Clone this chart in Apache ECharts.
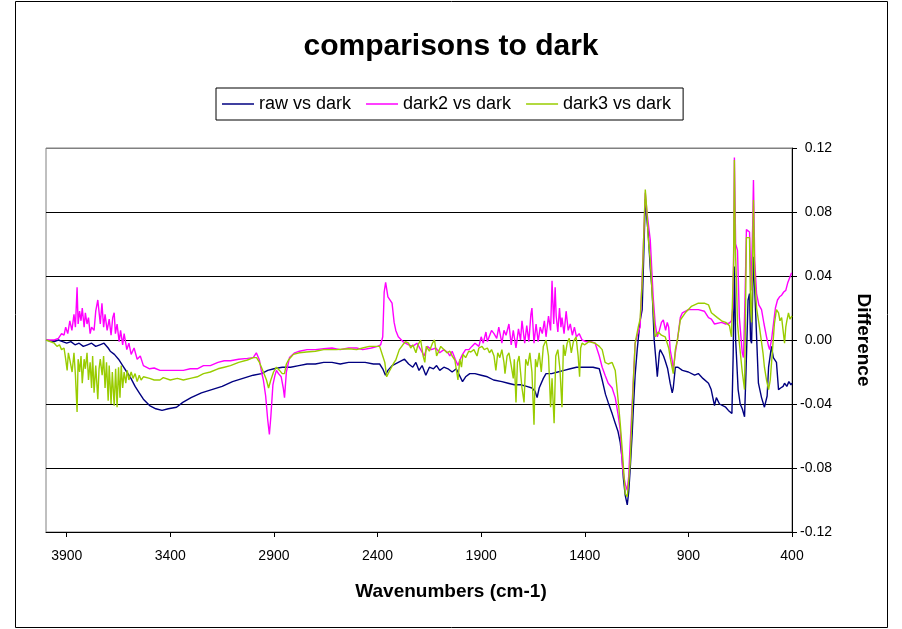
<!DOCTYPE html>
<html>
<head>
<meta charset="utf-8">
<title>comparisons to dark</title>
<script src="https://cdn.jsdelivr.net/npm/echarts@6/dist/echarts.min.js"></script>
<style>
  html, body { margin: 0; padding: 0; background: #fff; }
  #chart { width: 902px; height: 629px; }
</style>
</head>
<body>
<div id="chart"></div>
<script>
// x tick labels (wavenumbers, axis runs high -> low)
const xTicks = [3900, 3400, 2900, 2400, 1900, 1400, 900, 400];
const seriesNames = ['raw vs dark', 'dark2 vs dark', 'dark3 vs dark'];

// [wavenumber, difference]
const rawVsDark = [
  [4000, 0], [3960, -0.001], [3940, 0.0], [3920, -0.001], [3900, -0.002], [3880, -0.001], [3860, -0.003],
  [3840, -0.002], [3820, -0.004], [3800, -0.003], [3780, -0.002], [3760, -0.004], [3740, -0.003], [3720, -0.002],
  [3700, -0.005], [3690, -0.007], [3670, -0.009], [3650, -0.012], [3630, -0.016], [3610, -0.020], [3590, -0.024],
  [3570, -0.029], [3550, -0.033], [3530, -0.037], [3500, -0.041], [3470, -0.043], [3440, -0.044], [3410, -0.043],
  [3370, -0.042], [3340, -0.039], [3300, -0.036], [3250, -0.033], [3200, -0.031], [3150, -0.029], [3100, -0.026],
  [3050, -0.024], [3000, -0.022], [2960, -0.021], [2930, -0.019], [2900, -0.018], [2860, -0.017], [2820, -0.017],
  [2780, -0.016], [2740, -0.015], [2700, -0.015], [2660, -0.014], [2620, -0.014], [2580, -0.015], [2540, -0.014],
  [2500, -0.014], [2460, -0.014], [2420, -0.015], [2390, -0.015], [2375, -0.018], [2362, -0.022], [2350, -0.019],
  [2330, -0.016], [2300, -0.014], [2270, -0.012], [2250, -0.015], [2230, -0.017], [2215, -0.014], [2200, -0.019],
  [2185, -0.016], [2167, -0.022], [2150, -0.017], [2130, -0.018], [2115, -0.016], [2100, -0.019], [2080, -0.017],
  [2060, -0.018], [2040, -0.020], [2020, -0.018], [2005, -0.022], [1990, -0.026], [1975, -0.023], [1955, -0.021],
  [1930, -0.021], [1900, -0.022], [1870, -0.023], [1840, -0.025], [1800, -0.026], [1770, -0.027], [1740, -0.028],
  [1710, -0.028], [1680, -0.029], [1655, -0.030], [1640, -0.032], [1630, -0.036], [1620, -0.030], [1600, -0.024],
  [1587, -0.021], [1560, -0.021], [1530, -0.020], [1500, -0.019], [1470, -0.018], [1440, -0.017], [1400, -0.017],
  [1360, -0.017], [1330, -0.018], [1316, -0.025], [1300, -0.034], [1287, -0.039], [1268, -0.046], [1253, -0.052],
  [1240, -0.057], [1229, -0.064], [1219, -0.075], [1214, -0.086], [1205, -0.097], [1195, -0.103], [1188, -0.095],
  [1181, -0.081], [1171, -0.058], [1166, -0.044], [1157, -0.022], [1147, -0.006], [1133, 0.012], [1123, 0.019],
  [1115, 0.055], [1108, 0.088], [1100, 0.075], [1094, 0.067], [1084, 0.045], [1075, 0.031], [1065, 0.0],
  [1055, -0.015], [1050, -0.023], [1040, -0.008], [1036, -0.006], [1020, -0.010], [1012, -0.013], [1000, -0.018],
  [988, -0.027], [978, -0.033], [973, -0.030], [963, -0.017], [950, -0.017], [929, -0.019], [900, -0.020],
  [870, -0.022], [852, -0.021], [830, -0.024], [803, -0.027], [790, -0.031], [774, -0.041], [765, -0.036],
  [750, -0.040], [720, -0.042], [707, -0.044], [690, -0.046], [684, -0.010], [678, 0.046], [672, 0.0],
  [668, -0.010], [660, -0.031], [650, -0.040], [640, -0.043], [629, -0.048], [622, -0.020], [612, 0.025],
  [605, 0.029], [600, 0.0], [595, -0.002], [586, 0.052], [576, 0.019], [562, -0.027], [547, -0.036],
  [533, -0.042], [520, -0.035], [513, -0.017], [499, -0.004], [490, -0.011], [475, -0.014], [465, -0.031],
  [455, -0.030], [443, -0.029], [436, -0.027], [425, -0.029], [415, -0.026], [405, -0.028], [400, -0.027]
];

const dark2VsDark = [
  [4000, 0], [3960, 0.0], [3940, 0.001], [3925, 0.004], [3913, 0.003], [3905, 0.008], [3895, 0.004],
  [3885, 0.012], [3875, 0.006], [3865, 0.016], [3858, 0.008], [3850, 0.033], [3845, 0.010], [3838, 0.018],
  [3831, 0.012], [3825, 0.020], [3816, 0.008], [3810, 0.017], [3802, 0.010], [3795, 0.014], [3787, 0.004],
  [3780, 0.008], [3768, 0.006], [3760, 0.018], [3750, 0.025], [3744, 0.025], [3738, 0.010], [3730, 0.023],
  [3722, 0.008], [3715, 0.016], [3705, 0.006], [3695, 0.013], [3686, 0.003], [3678, 0.014], [3671, 0.017],
  [3665, 0.004], [3657, 0.010], [3647, -0.001], [3640, 0.006], [3630, -0.003], [3623, 0.004], [3610, -0.006],
  [3600, -0.002], [3589, -0.009], [3575, -0.005], [3560, -0.012], [3545, -0.010], [3530, -0.016], [3500, -0.018],
  [3478, -0.0175], [3450, -0.019], [3415, -0.019], [3380, -0.019], [3337, -0.019], [3304, -0.018], [3270, -0.018],
  [3240, -0.016], [3207, -0.016], [3170, -0.014], [3140, -0.013], [3110, -0.013], [3070, -0.012], [3028, -0.0115],
  [3000, -0.011], [2985, -0.008], [2970, -0.0125], [2960, -0.020], [2951, -0.025], [2940, -0.035], [2930, -0.050],
  [2922, -0.059], [2915, -0.048], [2905, -0.028], [2895, -0.022], [2888, -0.019], [2878, -0.021], [2865, -0.023],
  [2855, -0.030], [2849, -0.036], [2840, -0.020], [2825, -0.011], [2800, -0.008], [2777, -0.007], [2740, -0.006],
  [2700, -0.006], [2660, -0.0055], [2620, -0.005], [2580, -0.006], [2540, -0.005], [2501, -0.005], [2472, -0.006],
  [2430, -0.005], [2400, -0.004], [2385, -0.003], [2375, 0.002], [2368, 0.030], [2361, 0.036], [2350, 0.027],
  [2341, 0.026], [2330, 0.023], [2320, 0.011], [2312, 0.006], [2300, 0.002], [2278, -0.001], [2250, -0.003],
  [2230, -0.004], [2210, -0.002], [2192, -0.006], [2175, -0.010], [2160, -0.004], [2140, -0.006], [2119, -0.005],
  [2100, -0.008], [2080, -0.006], [2060, -0.008], [2051, -0.010], [2040, -0.007], [2025, -0.012], [2012, -0.016],
  [2003, -0.0125], [1990, -0.009], [1975, -0.006], [1959, -0.006], [1945, -0.004], [1930, -0.002], [1911, -0.004],
  [1900, 0.002], [1890, -0.002], [1877, 0.005], [1870, -0.001], [1862, 0.0], [1850, 0.006], [1838, 0.004],
  [1825, 0.001], [1815, 0.008], [1800, -0.002], [1790, 0.006], [1780, 0.003], [1766, 0.010], [1755, -0.003],
  [1745, 0.006], [1732, -0.005], [1720, 0.007], [1710, 0.0], [1703, 0.012], [1690, -0.002], [1680, 0.009],
  [1670, -0.001], [1660, 0.016], [1655, 0.020], [1645, -0.002], [1635, 0.010], [1625, -0.001], [1615, 0.008],
  [1605, 0.004], [1595, 0.012], [1587, 0.002], [1575, 0.015], [1565, 0.006], [1558, 0.037], [1550, 0.010],
  [1543, 0.033], [1538, 0.015], [1530, 0.005], [1522, 0.020], [1515, 0.008], [1510, 0.014], [1500, 0.004],
  [1490, 0.018], [1480, 0.006], [1470, 0.010], [1460, 0.003], [1450, 0.008], [1440, 0.002], [1427, 0.004],
  [1413, 0.0], [1395, -0.001], [1370, -0.001], [1350, -0.002], [1330, -0.010], [1316, -0.017], [1302, -0.022],
  [1287, -0.027], [1268, -0.030], [1253, -0.036], [1240, -0.046], [1229, -0.056], [1219, -0.078], [1214, -0.083],
  [1205, -0.090], [1195, -0.094], [1188, -0.085], [1181, -0.065], [1171, -0.039], [1157, -0.002], [1142, 0.005],
  [1133, 0.008], [1118, 0.056], [1108, 0.092], [1100, 0.080], [1084, 0.0625], [1070, 0.027], [1060, 0.010],
  [1050, 0.002], [1040, 0.006], [1030, 0.011], [1021, 0.0125], [1010, 0.006], [1002, 0.011], [995, 0.008],
  [988, -0.006], [978, -0.013], [973, -0.019], [963, -0.008], [953, 0.0], [939, 0.014], [929, 0.017],
  [900, 0.019], [871, 0.019], [852, 0.019], [823, 0.018], [803, 0.014], [789, 0.013], [774, 0.010],
  [740, 0.011], [720, 0.010], [702, 0.0106], [692, 0.012], [686, 0.020], [682, 0.050], [678, 0.114],
  [672, 0.060], [663, 0.056], [654, 0.014], [640, -0.008], [634, -0.011], [626, 0.030], [620, 0.069],
  [605, 0.0675], [598, 0.031], [590, 0.070], [586, 0.100], [580, 0.050], [571, 0.029], [560, 0.022],
  [547, 0.019], [535, 0.010], [523, 0.002], [513, -0.004], [508, -0.006], [499, 0.0], [489, 0.0106],
  [480, 0.020], [470, 0.025], [460, 0.027], [450, 0.028], [440, 0.030], [430, 0.031], [420, 0.036],
  [415, 0.035], [408, 0.040], [402, 0.042]
];

const dark3VsDark = [
  [4000, 0], [3960, -0.002], [3947, -0.004], [3935, -0.003], [3925, -0.006], [3913, -0.005], [3905, -0.012],
  [3898, -0.019], [3892, -0.008], [3884, -0.013], [3874, -0.020], [3865, -0.008], [3858, -0.022], [3850, -0.045],
  [3845, -0.012], [3838, -0.020], [3831, -0.010], [3825, -0.027], [3816, -0.012], [3810, -0.018], [3802, -0.008],
  [3795, -0.025], [3787, -0.014], [3780, -0.030], [3775, -0.010], [3768, -0.033], [3760, -0.016], [3750, -0.037],
  [3744, -0.018], [3738, -0.012], [3729, -0.022], [3722, -0.010], [3715, -0.030], [3708, -0.014], [3700, -0.038],
  [3695, -0.016], [3686, -0.040], [3680, -0.020], [3671, -0.041], [3664, -0.018], [3657, -0.042], [3650, -0.017],
  [3643, -0.036], [3637, -0.016], [3630, -0.030], [3623, -0.020], [3615, -0.027], [3608, -0.019], [3600, -0.025],
  [3589, -0.020], [3580, -0.024], [3570, -0.021], [3560, -0.026], [3550, -0.022], [3541, -0.025], [3530, -0.023],
  [3500, -0.024], [3478, -0.025], [3450, -0.025], [3434, -0.0235], [3400, -0.025], [3366, -0.024], [3337, -0.025],
  [3304, -0.024], [3270, -0.023], [3240, -0.021], [3207, -0.020], [3170, -0.018], [3140, -0.017], [3110, -0.016],
  [3070, -0.014], [3028, -0.0125], [3000, -0.011], [2984, -0.011], [2970, -0.014], [2951, -0.020], [2936, -0.025],
  [2926, -0.030], [2915, -0.025], [2902, -0.020], [2888, -0.017], [2873, -0.019], [2860, -0.021], [2849, -0.021],
  [2840, -0.015], [2830, -0.0125], [2806, -0.009], [2777, -0.008], [2743, -0.0075], [2700, -0.007], [2660, -0.006],
  [2600, -0.006], [2540, -0.0055], [2501, -0.006], [2472, -0.005], [2440, -0.004], [2409, -0.004], [2390, -0.004],
  [2385, -0.005], [2375, -0.010], [2365, -0.014], [2356, -0.023], [2345, -0.020], [2336, -0.019], [2320, -0.014],
  [2312, -0.0125], [2295, -0.006], [2278, -0.003], [2265, -0.001], [2250, -0.002], [2240, -0.005], [2230, -0.003],
  [2215, -0.008], [2205, -0.003], [2192, 0.0], [2180, -0.010], [2172, -0.014], [2165, -0.004], [2150, -0.007],
  [2135, -0.002], [2125, 0.0], [2115, -0.010], [2109, -0.011], [2095, -0.004], [2080, -0.006], [2065, -0.008],
  [2051, -0.007], [2040, -0.010], [2027, -0.0125], [2012, -0.025], [2003, -0.012], [1995, -0.017], [1988, -0.009],
  [1975, -0.011], [1960, -0.007], [1950, -0.0075], [1935, -0.006], [1920, -0.010], [1911, -0.005], [1896, -0.004],
  [1885, -0.006], [1870, -0.005], [1860, -0.008], [1850, -0.006], [1838, -0.010], [1829, -0.019], [1820, -0.008],
  [1810, -0.011], [1800, -0.006], [1790, -0.014], [1785, -0.021], [1775, -0.010], [1766, -0.008], [1755, -0.016],
  [1745, -0.024], [1740, -0.012], [1732, -0.039], [1725, -0.014], [1717, -0.010], [1710, -0.020], [1703, -0.030],
  [1693, -0.039], [1685, -0.012], [1675, -0.016], [1665, -0.008], [1655, -0.020], [1645, -0.053], [1638, -0.012],
  [1630, -0.017], [1620, -0.008], [1610, -0.020], [1600, -0.004], [1587, 0.0], [1575, -0.010], [1565, -0.042],
  [1558, -0.024], [1548, -0.052], [1540, -0.010], [1530, -0.006], [1520, -0.018], [1510, -0.042], [1503, -0.003],
  [1495, -0.010], [1485, -0.002], [1475, 0.001], [1465, -0.008], [1455, -0.001], [1442, 0.002], [1432, -0.010],
  [1425, -0.023], [1420, -0.005], [1413, -0.002], [1400, -0.003], [1380, -0.001], [1350, -0.002], [1330, -0.004],
  [1316, -0.006], [1302, -0.014], [1287, -0.015], [1268, -0.014], [1253, -0.019], [1239, -0.0375], [1229, -0.052],
  [1219, -0.069], [1210, -0.086], [1205, -0.096], [1195, -0.098], [1188, -0.088], [1181, -0.077], [1166, -0.027],
  [1157, -0.002], [1142, 0.008], [1133, 0.013], [1123, 0.036], [1108, 0.094], [1100, 0.080], [1094, 0.064],
  [1084, 0.050], [1075, 0.029], [1060, 0.002], [1046, 0.005], [1030, 0.003], [1012, 0.002], [995, -0.005],
  [988, -0.011], [973, -0.021], [963, -0.006], [953, 0.0], [939, 0.0125], [915, 0.017], [886, 0.021],
  [870, 0.022], [852, 0.023], [823, 0.023], [803, 0.022], [789, 0.017], [760, 0.014], [740, 0.012],
  [720, 0.011], [702, 0.009], [692, 0.002], [686, 0.030], [682, 0.046], [678, 0.1125], [674, 0.060],
  [668, 0.036], [663, 0.010], [654, -0.002], [640, -0.020], [629, -0.031], [620, 0.064], [605, 0.064],
  [600, 0.020], [595, 0.011], [590, 0.050], [586, 0.0875], [580, 0.040], [571, 0.020], [557, 0.008],
  [540, -0.008], [533, -0.017], [523, -0.025], [513, -0.031], [505, -0.025], [494, -0.006], [485, 0.010],
  [475, 0.019], [465, 0.017], [458, 0.012], [450, 0.014], [443, 0.006], [436, -0.002], [430, 0.008],
  [425, 0.012], [417, 0.017], [410, 0.013], [402, 0.014], [400, 0.015]
];

const colors = ['#000080', '#FF00FF', '#99CC00'];
const FONT = "'Liberation Sans', Arial, sans-serif";

const chart = echarts.init(document.getElementById('chart'), null, { renderer: 'canvas' });

const lineSeries = (name, data, color) => ({
  name: name,
  type: 'line',
  data: data,
  showSymbol: false,
  symbol: 'none',
  sampling: null,
  lineStyle: { color: color, width: 1.4 },
  itemStyle: { color: color },
  emphasis: { disabled: true }
});

chart.setOption({
  animation: false,
  backgroundColor: '#fff',
  title: {
    text: 'comparisons to dark',
    left: 'center',
    top: 27,
    textStyle: { fontFamily: FONT, fontSize: 30, fontWeight: 'bold', color: '#000' }
  },
  legend: {
    data: seriesNames.map(n => ({ name: n, icon: 'rect' })),
    left: 216,
    top: 88,
    padding: [7, 12, 7, 6],
    itemGap: 15,
    itemWidth: 32,
    itemHeight: 1.5,
    borderColor: '#000',
    borderWidth: 1,
    textStyle: { fontFamily: FONT, fontSize: 18, color: '#000' }
  },
  grid: {
    left: 46, right: 110, top: 148, bottom: 97,
    show: true, borderColor: '#808080', borderWidth: 1
  },
  xAxis: {
    type: 'value',
    min: 400, max: 4000,
    inverse: true,
    axisLine: { onZero: false, lineStyle: { color: '#000', width: 1 } },
    axisTick: { show: true, inside: false, length: 5, customValues: xTicks, lineStyle: { color: '#000' } },
    axisLabel: {
      customValues: xTicks, margin: 17, fontFamily: FONT, fontSize: 14, color: '#000',
      formatter: v => String(v)
    },
    splitLine: { show: false }
  },
  yAxis: {
    type: 'value',
    position: 'right',
    min: -0.12, max: 0.12, interval: 0.04,
    name: 'Difference',
    nameLocation: 'middle',
    nameRotate: -90,
    nameGap: 62,
    nameTextStyle: { fontFamily: FONT, fontSize: 19, fontWeight: 'bold', color: '#000' },
    axisLine: { show: true, lineStyle: { color: '#000', width: 1 } },
    axisTick: { show: true, inside: false, length: 5, lineStyle: { color: '#000' } },
    axisLabel: {
      margin: 40, align: 'right', fontFamily: FONT, fontSize: 14, color: '#000',
      formatter: v => v.toFixed(2)
    },
    // top gridline stays the grey plot border
    splitLine: {
      show: true,
      lineStyle: { color: ['#000', '#000', '#000', '#000', '#000', '#000', '#808080'], width: 1 }
    }
  },
  graphic: [{
    type: 'rect',
    shape: { x: 15.5, y: 1.5, width: 872, height: 626 },
    style: { fill: 'none', stroke: '#000', lineWidth: 1 },
    silent: true,
    z: -1
  }, {
    // x axis title, centred on the whole chart like the reference
    type: 'text',
    left: 'center',
    top: 582,
    style: {
      text: 'Wavenumbers (cm-1)',
      font: "bold 19px 'Liberation Sans', Arial, sans-serif",
      fill: '#000'
    }
  }],
  series: [
    lineSeries(seriesNames[0], rawVsDark, colors[0]),
    lineSeries(seriesNames[1], dark2VsDark, colors[1]),
    lineSeries(seriesNames[2], dark3VsDark, colors[2])
  ]
});

window.addEventListener('resize', () => chart.resize());
</script>
</body>
</html>
